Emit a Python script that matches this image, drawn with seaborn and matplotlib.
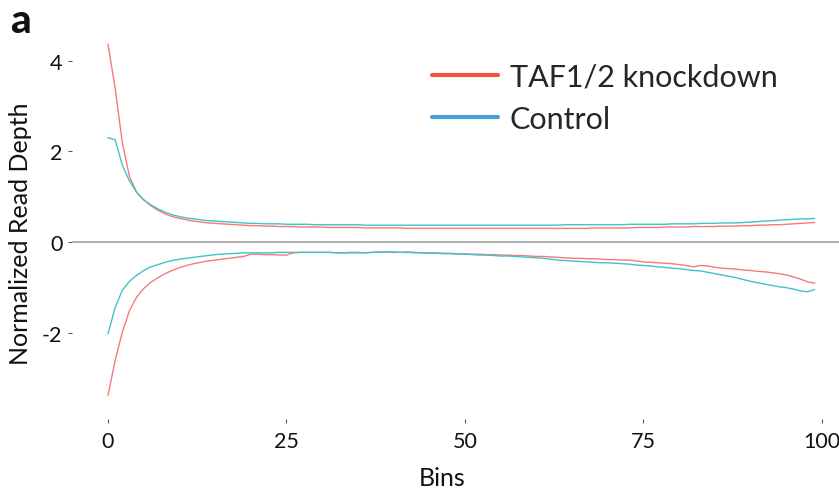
import matplotlib
matplotlib.use("Agg")
import matplotlib.pyplot as plt
from matplotlib.lines import Line2D
import seaborn as sns
import pandas as pd

# bins along the gene body
bins = list(range(100))

# normalized read depth, sense (top) and antisense (bottom) strands
knockdown_top = [
    4.37, 3.40, 2.20, 1.45, 1.10, 0.93, 0.80, 0.70, 0.62, 0.56,
    0.52, 0.49, 0.46, 0.44, 0.42, 0.41, 0.40, 0.39, 0.38, 0.37,
    0.36, 0.36, 0.35, 0.35, 0.34, 0.34, 0.34, 0.33, 0.33, 0.33,
    0.33, 0.32, 0.32, 0.32, 0.32, 0.32, 0.31, 0.31, 0.31, 0.31,
    0.31, 0.31, 0.30, 0.30, 0.30, 0.30, 0.30, 0.30, 0.30, 0.30,
    0.30, 0.30, 0.30, 0.30, 0.30, 0.30, 0.30, 0.30, 0.30, 0.30,
    0.30, 0.30, 0.30, 0.30, 0.30, 0.30, 0.30, 0.30, 0.31, 0.31,
    0.31, 0.31, 0.31, 0.31, 0.32, 0.32, 0.32, 0.32, 0.33, 0.33,
    0.33, 0.33, 0.34, 0.34, 0.34, 0.34, 0.35, 0.35, 0.35, 0.36,
    0.36, 0.37, 0.37, 0.38, 0.38, 0.39, 0.40, 0.41, 0.42, 0.43,
]
control_top = [
    2.30, 2.26, 1.70, 1.35, 1.10, 0.93, 0.82, 0.73, 0.66, 0.60,
    0.56, 0.53, 0.51, 0.49, 0.47, 0.46, 0.45, 0.44, 0.43, 0.42,
    0.41, 0.41, 0.40, 0.40, 0.40, 0.39, 0.39, 0.39, 0.39, 0.38,
    0.38, 0.38, 0.38, 0.38, 0.38, 0.38, 0.37, 0.37, 0.37, 0.37,
    0.37, 0.37, 0.37, 0.37, 0.37, 0.37, 0.37, 0.37, 0.37, 0.37,
    0.37, 0.37, 0.37, 0.37, 0.37, 0.37, 0.37, 0.37, 0.37, 0.37,
    0.37, 0.37, 0.37, 0.37, 0.38, 0.38, 0.38, 0.38, 0.38, 0.38,
    0.38, 0.38, 0.38, 0.39, 0.39, 0.39, 0.39, 0.39, 0.39, 0.40,
    0.40, 0.40, 0.40, 0.41, 0.41, 0.41, 0.42, 0.42, 0.42, 0.43,
    0.44, 0.45, 0.46, 0.47, 0.48, 0.49, 0.50, 0.51, 0.51, 0.52,
]
knockdown_bottom = [
    -3.39, -2.62, -2.00, -1.52, -1.22, -1.03, -0.89, -0.79, -0.70, -0.63,
    -0.57, -0.52, -0.48, -0.45, -0.42, -0.40, -0.38, -0.36, -0.34, -0.32,
    -0.27, -0.27, -0.28, -0.28, -0.29, -0.29, -0.24, -0.23, -0.23, -0.23,
    -0.23, -0.23, -0.24, -0.24, -0.23, -0.23, -0.24, -0.23, -0.22, -0.22,
    -0.23, -0.23, -0.22, -0.23, -0.24, -0.24, -0.24, -0.25, -0.25, -0.26,
    -0.26, -0.27, -0.27, -0.28, -0.28, -0.29, -0.29, -0.30, -0.30, -0.31,
    -0.32, -0.32, -0.33, -0.34, -0.35, -0.36, -0.36, -0.37, -0.37, -0.38,
    -0.39, -0.39, -0.40, -0.40, -0.42, -0.44, -0.45, -0.46, -0.47, -0.48,
    -0.50, -0.52, -0.55, -0.52, -0.53, -0.56, -0.58, -0.59, -0.60, -0.62,
    -0.63, -0.65, -0.66, -0.68, -0.70, -0.73, -0.77, -0.82, -0.88, -0.91,
]
control_bottom = [
    -2.03, -1.45, -1.07, -0.87, -0.74, -0.63, -0.55, -0.50, -0.45, -0.41,
    -0.38, -0.36, -0.34, -0.32, -0.30, -0.28, -0.27, -0.26, -0.25, -0.24,
    -0.24, -0.24, -0.24, -0.24, -0.23, -0.23, -0.23, -0.23, -0.23, -0.23,
    -0.23, -0.23, -0.24, -0.24, -0.24, -0.24, -0.24, -0.23, -0.23, -0.22,
    -0.22, -0.23, -0.23, -0.24, -0.24, -0.25, -0.25, -0.26, -0.26, -0.27,
    -0.27, -0.28, -0.29, -0.29, -0.30, -0.31, -0.31, -0.32, -0.33, -0.34,
    -0.35, -0.36, -0.38, -0.40, -0.41, -0.42, -0.43, -0.44, -0.45, -0.46,
    -0.46, -0.47, -0.48, -0.49, -0.51, -0.52, -0.53, -0.55, -0.56, -0.58,
    -0.59, -0.61, -0.63, -0.64, -0.67, -0.70, -0.73, -0.76, -0.79, -0.83,
    -0.87, -0.90, -0.93, -0.96, -0.99, -1.01, -1.04, -1.08, -1.10, -1.05,
]

conditions = ["TAF1/2 knockdown", "Control"]
line_colors = {"TAF1/2 knockdown": "#f47b7b", "Control": "#3fc4c8"}
legend_colors = ["#ee5a36", "#4a9fdc"]

frames = []
for cond, strand, vals in [
    ("TAF1/2 knockdown", "top", knockdown_top),
    ("TAF1/2 knockdown", "bottom", knockdown_bottom),
    ("Control", "top", control_top),
    ("Control", "bottom", control_bottom),
]:
    frames.append(pd.DataFrame({"bin": bins, "depth": vals,
                                "condition": cond, "strand": cond + strand}))
df = pd.concat(frames, ignore_index=True)

sns.set_style("white")
plt.rcParams["font.family"] = ["Lato", "DejaVu Sans"]

fig = plt.figure(figsize=(8.39, 4.89), dpi=100)
ax = fig.add_axes([72 / 839, 1 - 420 / 489, 767 / 839, 394.4 / 489])

ax.axhline(0, color="#a8a8a8", lw=1.3, zorder=1)
sns.lineplot(data=df, x="bin", y="depth", hue="condition", units="strand",
             estimator=None, palette=line_colors, lw=1.0, legend=False,
             ax=ax, zorder=2)

ax.set_xlim(-5.04, 102.4)
ax.set_ylim(-3.91, 4.80)
ax.set_xticks([0, 25, 50, 75, 100])
ax.set_yticks([-2, 0, 2, 4])
ax.set_yticklabels(["-2", "0", "2", "4"])
for s in ax.spines.values():
    s.set_visible(False)
ax.tick_params(axis="both", which="both", direction="out", length=3,
               width=0.8, color="#555555", labelsize=15.5, labelcolor="#111111",
               left=True, bottom=True)
ax.tick_params(axis="x", pad=6)
ax.tick_params(axis="y", pad=4)
ax.set_xlabel("Bins", fontsize=18, color="#111111")
ax.set_ylabel("Normalized Read Depth", fontsize=18, color="#111111")
ax.xaxis.set_label_coords(0.482, -0.118)
ax.yaxis.set_label_coords(-0.052, 0.472)

handles = [Line2D([], [], color=c, lw=3) for c in legend_colors]
ax.legend(handles, conditions, loc="upper left", frameon=False, fontsize=22,
          bbox_to_anchor=(432 / 839, 1 - 64 / 489), bbox_transform=fig.transFigure,
          borderpad=0, borderaxespad=0, handlelength=2.15, handletextpad=0.4,
          labelspacing=0.45)

fig.text(10 / 839, 1 - 33 / 489, "a", fontsize=29, fontweight="black",
         va="baseline", ha="left", color="#111111")

fig.savefig("out.png", dpi=100)
